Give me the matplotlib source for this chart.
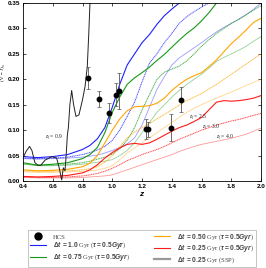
import numpy as np
import matplotlib
matplotlib.use("Agg")
import matplotlib.pyplot as plt
from matplotlib.lines import Line2D

nan = np.nan

# common redshift grid for the model tracks
Z = [0.40, 0.50, 0.60, 0.70, 0.80, 0.85, 0.90, 0.95, 1.00, 1.05, 1.10, 1.15, 1.20, 1.25, 1.30,
     1.35, 1.40, 1.45, 1.50, 1.55, 1.60, 1.65, 1.70, 1.75, 1.80, 1.85, 1.90, 1.95, 2.00]

# dt = 1.0 Gyr
blue_zf25 = [0.048, 0.046, 0.048, 0.052, 0.062, 0.070, 0.083, 0.105, 0.145, 0.190, 0.228, 0.250, 0.272, 0.288, 0.308,
             0.325, 0.338, 0.350, 0.365, nan, nan, nan, nan, nan, nan, nan, nan, nan, nan]
blue_zf30 = [0.045, 0.044, 0.045, 0.047, 0.052, 0.056, 0.061, 0.068, 0.080, 0.100, 0.127, 0.155, 0.195, 0.232, 0.250,
             0.272, 0.290, 0.310, 0.323, 0.333, 0.342, 0.350, 0.360, nan, nan, nan, nan, nan, nan]
blue_zf40 = [0.044, 0.043, 0.044, 0.045, 0.047, 0.049, 0.051, 0.055, 0.060, 0.066, 0.073, 0.085, 0.110, 0.145, 0.180,
             0.205, 0.228, 0.242, 0.252, 0.262, 0.272, 0.283, 0.293, 0.302, 0.310, 0.318, 0.327, 0.338, 0.350]
# dt = 0.75 Gyr
green_zf25 = [0.036, 0.031, 0.033, 0.036, 0.044, 0.052, 0.066, 0.095, 0.135, 0.165, 0.190, 0.203, 0.213, 0.224, 0.237,
              0.249, 0.263, 0.277, 0.290, 0.301, 0.315, 0.331, 0.350, 0.360, nan, nan, nan, nan, nan]
green_zf30 = [0.034, 0.031, 0.031, 0.033, 0.036, 0.039, 0.043, 0.047, 0.053, 0.063, 0.080, 0.105, 0.140, 0.170, 0.200,
              0.214, 0.220, 0.226, 0.236, 0.250, 0.265, 0.278, 0.290, 0.300, 0.310, 0.318, 0.327, 0.336, 0.345]
green_zf40 = [0.033, 0.030, 0.030, 0.031, 0.033, 0.035, 0.037, 0.039, 0.042, 0.050, 0.060, 0.075, 0.095, 0.115, 0.135,
              0.150, 0.165, 0.178, 0.190, 0.200, 0.210, 0.222, 0.235, 0.243, 0.250, 0.257, 0.265, 0.275, 0.284]
# dt = 0.50 Gyr
orange_zf25 = [0.022, 0.020, 0.021, 0.023, 0.028, 0.035, 0.050, 0.075, 0.100, 0.122, 0.138, 0.146, 0.147, 0.148, 0.153,
               0.163, 0.178, 0.190, 0.200, 0.207, 0.213, 0.225, 0.238, 0.254, 0.270, 0.283, 0.297, 0.312, 0.320]
orange_zf30 = [0.020, 0.019, 0.019, 0.020, 0.022, 0.024, 0.028, 0.037, 0.050, 0.067, 0.085, 0.096, 0.105, 0.113, 0.122,
               0.131, 0.140, 0.149, 0.158, 0.165, 0.172, 0.181, 0.190, 0.200, 0.210, 0.220, 0.230, 0.240, 0.250]
orange_zf40 = [0.018, 0.017, 0.017, 0.018, 0.019, 0.020, 0.022, 0.025, 0.030, 0.042, 0.055, 0.065, 0.075, 0.085, 0.095,
               0.105, 0.115, 0.125, 0.135, 0.143, 0.150, 0.157, 0.163, 0.169, 0.175, 0.181, 0.188, 0.194, 0.200]
# dt = 0.25 Gyr
red_zf25 = [0.009, 0.008, 0.009, 0.011, 0.016, 0.022, 0.032, 0.045, 0.056, 0.065, 0.072, 0.074, 0.072, 0.075, 0.082,
            0.090, 0.098, 0.105, 0.110, 0.117, 0.125, 0.140, 0.155, 0.158, 0.157, 0.158, 0.160, 0.163, 0.168]
red_zf30 = [0.008, 0.007, 0.007, 0.008, 0.010, 0.012, 0.015, 0.019, 0.025, 0.032, 0.040, 0.046, 0.052, 0.057, 0.062,
            0.068, 0.075, 0.082, 0.088, 0.094, 0.100, 0.105, 0.110, 0.114, 0.118, 0.121, 0.125, 0.129, 0.133]
red_zf40 = [0.007, 0.006, 0.006, 0.006, 0.007, 0.008, 0.009, 0.010, 0.012, 0.017, 0.022, 0.027, 0.032, 0.037, 0.042,
            0.047, 0.052, 0.058, 0.063, 0.068, 0.072, 0.075, 0.078, 0.081, 0.084, 0.088, 0.092, 0.098, 0.104]

# SSP track, z_f = 0.9
ssp_z = [0.400, 0.420, 0.444, 0.460, 0.480, 0.500, 0.520, 0.548, 0.593, 0.626, 0.644, 0.660, 0.671, 0.682,
         0.690, 0.698, 0.705, 0.715, 0.727, 0.740, 0.756, 0.776, 0.800, 0.817, 0.832, 0.842, 0.850]
ssp_c = [0.045, 0.058, 0.068, 0.060, 0.036, 0.031, 0.031, 0.041, 0.048, 0.045, 0.025, 0.002, 0.026, 0.020,
         0.050, 0.090, 0.105, 0.150, 0.178, 0.150, 0.127, 0.130, 0.160, 0.186, 0.225, 0.290, 0.350]

# HCS clusters
hcs_z = [0.839, 0.909, 0.980, 1.027, 1.043, 1.225, 1.243, 1.393, 1.464]
hcs_c = [0.203, 0.161, 0.134, 0.170, 0.177, 0.102, 0.102, 0.105, 0.160]
hcs_e = [0.022, 0.015, 0.020, 0.023, 0.035, 0.020, 0.015, 0.027, 0.024]

plt.rcParams["font.family"] = ["Liberation Sans", "DejaVu Sans"]
plt.rcParams["mathtext.fontset"] = "custom"
plt.rcParams["mathtext.rm"] = "Liberation Sans:bold"
plt.rcParams["mathtext.it"] = "Liberation Sans:italic:bold"
plt.rcParams["mathtext.bf"] = "Liberation Sans:bold"
plt.rcParams["mathtext.sf"] = "Liberation Serif:italic"

fig = plt.figure(figsize=(2.66, 2.68), dpi=100)
ax = fig.add_axes([0.0865, 0.3246, 0.895, 0.6642])

tracks = [
    ("#1f1fff", blue_zf25, blue_zf30, blue_zf40),
    ("#169916", green_zf25, green_zf30, green_zf40),
    ("#ffa500", orange_zf25, orange_zf30, orange_zf40),
    ("#ff1a1a", red_zf25, red_zf30, red_zf40),
]
for col, s25, s30, s40 in tracks:
    ax.plot(Z, s40, color=col, lw=0.6, alpha=0.45)
    ax.plot(Z, s30, color=col, lw=0.7, ls=(0, (1.2, 0.6)), alpha=0.8)
    ax.plot(Z, s25, color=col, lw=0.8)

ax.plot(ssp_z, ssp_c, color="#222222", lw=0.7)
ax.errorbar(hcs_z, hcs_c, yerr=hcs_e, fmt="o", color="black", ms=3.2,
            ecolor="#555555", elinewidth=0.6, capsize=1.5, capthick=0.5, zorder=5)

ann = dict(fontsize=4.0, family="Liberation Serif", ha="center", va="center", color="#222222")
ax.text(0.608, 0.084, r"$\mathsf{z_f}$ = 0.9", **ann)
ax.text(1.573, 0.124, r"$\mathsf{z_f}$ = 2.5", **ann)
ax.text(1.664, 0.104, r"$\mathsf{z_f}$ = 3.0", **ann)
ax.text(1.758, 0.084, r"$\mathsf{z_f}$ = 4.0", **ann)

ax.set_xlim(0.4, 2.0)
ax.set_ylim(0.0, 0.35)
ax.set_xticks(np.arange(0.4, 2.01, 0.2))
ax.set_yticks(np.arange(0.0, 0.351, 0.05))
ax.xaxis.set_major_formatter(matplotlib.ticker.FormatStrFormatter("%.1f"))
ax.yaxis.set_major_formatter(matplotlib.ticker.FormatStrFormatter("%.2f"))
ax.tick_params(direction="in", top=True, right=True, length=2, width=0.5,
               labelsize=4.6, pad=2)
for lab in ax.get_xticklabels() + ax.get_yticklabels():
    lab.set_fontweight("bold")
for sp in ax.spines.values():
    sp.set_linewidth(0.6)

ax.set_xlabel(r"$z$", fontsize=6, labelpad=1)
ax.set_ylabel("(V − J)₀", fontsize=3.8, family=["Liberation Serif", "DejaVu Serif"], labelpad=0)
ax.yaxis.set_label_coords(-0.075, 0.607)

handles = [
    Line2D([], [], ls="none", marker="o", color="black", ms=5),
    Line2D([], [], color="#1f1fff", lw=0.8),
    Line2D([], [], color="#169916", lw=0.8),
    Line2D([], [], color="#ffa500", lw=0.8),
    Line2D([], [], color="#ff1a1a", lw=0.8),
    Line2D([], [], color="#999999", lw=1.6),
]
labels = [
    "HCS",
    r"$\Delta t$ $\mathrm{= 1.0}$ Gyr ($\tau = 0.5Gyr$)",
    r"$\Delta t$ $\mathrm{= 0.75}$ Gyr ($\tau = 0.5Gyr$)",
    r"$\Delta t$ $\mathrm{= 0.50}$ Gyr ($\tau = 0.5Gyr$)",
    r"$\Delta t$ $\mathrm{= 0.25}$ Gyr ($\tau = 0.5Gyr$)",
    r"$\Delta t$ $\mathrm{= 0.25}$ Gyr (SSP)",
]
leg = fig.legend(handles, labels, ncol=2, loc="lower left",
                 bbox_to_anchor=(0.105, 0.004, 0.857, 0.123), mode="expand",
                 prop={"family": "Liberation Serif", "size": 4.8}, labelcolor="#444444",
                 fancybox=False, edgecolor="#aaaaaa", handlelength=2.4, borderaxespad=0,
                 handletextpad=1.0, borderpad=0.3, labelspacing=0.12, columnspacing=1.0)
leg.get_frame().set_linewidth(0.6)

fig.savefig("out.png", dpi=100)
